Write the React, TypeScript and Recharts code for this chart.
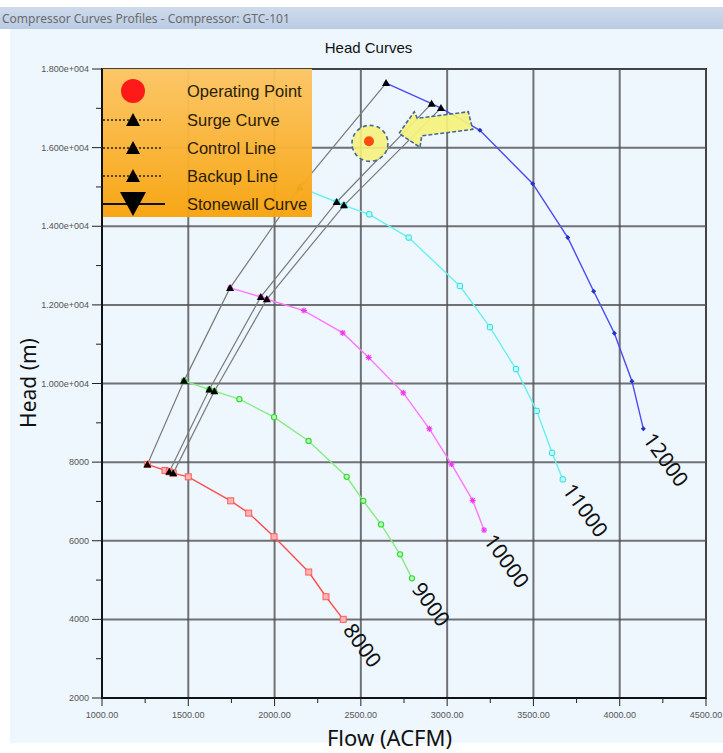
import React from 'react';
import { ScatterChart, Scatter, XAxis, YAxis, ReferenceLine, ReferenceArea } from 'recharts';

// axis ticks
const xMajor = [1000, 1500, 2000, 2500, 3000, 3500, 4000, 4500];
const xMinor = [1250, 1750, 2250, 2750, 3250, 3750, 4250];
const yMajor = [2000, 4000, 6000, 8000, 10000, 12000, 14000, 16000, 18000];
const yMinor = [3000, 5000, 7000, 9000, 11000, 13000, 15000, 17000];

// speed curves (flow ACFM, head m)
const flow8000 = [1263, 1365, 1390, 1413, 1500, 1746, 1850, 1997, 2198, 2298, 2398];
const head8000 = [7942, 7789, 7753, 7720, 7626, 7016, 6704, 6101, 5204, 4576, 4001];
const flow9000 = [1475, 1622, 1651, 1796, 1997, 2197, 2418, 2514, 2617, 2727, 2796];
const head9000 = [10067, 9848, 9805, 9602, 9144, 8539, 7626, 7016, 6416, 5654, 5044];
const flow10000 = [1742, 1920, 1955, 2170, 2395, 2545, 2746, 2897, 3025, 3148, 3214];
const head10000 = [12431, 12202, 12143, 11856, 11287, 10661, 9762, 8847, 7949, 7026, 6271];
const flow11000 = [2147, 2360, 2402, 2549, 2777, 3074, 3248, 3399, 3519, 3608, 3670];
const head11000 = [14990, 14617, 14533, 14304, 13712, 12481, 11432, 10364, 9304, 8236, 7560];
const flow12000 = [2646, 2910, 2964, 3190, 3496, 3699, 3849, 3969, 4071, 4137];
const head12000 = [17642, 17118, 17006, 16439, 15084, 13712, 12347, 11279, 10059, 8847];

// surge / control / backup lines
const surgeFlow = [1263, 1475, 1742, 2147, 2646];
const surgeHead = [7942, 10067, 12431, 14990, 17642];
const controlFlow = [1390, 1622, 1920, 2360, 2910];
const controlHead = [7753, 9848, 12202, 14617, 17118];
const backupFlow = [1413, 1651, 1955, 2402, 2964];
const backupHead = [7720, 9805, 12143, 14533, 17006];

// operating point and arrow tip
const opFlow = [2547];
const opHead = [16160];
const arrowFlow = [2721];
const arrowHead = [16363];

const speedNames = ['8000', '9000', '10000', '11000', '12000'];

const pts = (xs: number[], ys: number[]) => xs.map((x, i) => ({ x, y: ys[i] }));

const curves = [
  { data: pts(flow8000, head8000), color: '#ff4d4d', marker: 'square' },
  { data: pts(flow9000, head9000), color: '#86ec86', marker: 'circle' },
  { data: pts(flow10000, head10000), color: '#ff77ff', marker: 'star' },
  { data: pts(flow11000, head11000), color: '#66f2f2', marker: 'box' },
  { data: pts(flow12000, head12000), color: '#4b4bf0', marker: 'dot' },
];

const Marker = (kind: string) => (p: any) => {
  const { cx, cy } = p;
  if (cx == null || cy == null) return <g />;
  if (kind === 'square')
    return <rect x={cx - 3} y={cy - 3} width={6} height={6} fill="#ffb3b3" stroke="#ff5c5c" strokeWidth={1} />;
  if (kind === 'circle')
    return <circle cx={cx} cy={cy} r={2.6} fill="#b4ffb4" stroke="#33d633" strokeWidth={1.1} />;
  if (kind === 'star')
    return (
      <g stroke="#ee33ee" strokeWidth={1.1}>
        <line x1={cx - 3} x2={cx + 3} y1={cy} y2={cy} />
        <line x1={cx} x2={cx} y1={cy - 3} y2={cy + 3} />
        <line x1={cx - 2.2} x2={cx + 2.2} y1={cy - 2.2} y2={cy + 2.2} />
        <line x1={cx - 2.2} x2={cx + 2.2} y1={cy + 2.2} y2={cy - 2.2} />
      </g>
    );
  if (kind === 'box')
    return <rect x={cx - 2.6} y={cy - 2.6} width={5.2} height={5.2} rx={1.3} fill="#b8ffff" stroke="#2fd8d8" strokeWidth={1} />;
  return <path d={`M${cx},${cy - 2.5}L${cx + 2.5},${cy}L${cx},${cy + 2.5}L${cx - 2.5},${cy}Z`} fill="#2233cc" />;
};

const Triangle = (p: any) => {
  const { cx, cy } = p;
  if (cx == null) return <g />;
  return <path d={`M${cx},${cy - 4}L${cx + 4},${cy + 3}L${cx - 4},${cy + 3}Z`} fill="#000" />;
};

const OpShape = (p: any) => {
  const { cx, cy } = p;
  return (
    <g>
      <circle cx={cx + 1} cy={cy + 2} r={18} fill="#f6f27c" fillOpacity={0.9} stroke="#44679f" strokeWidth={1.6} strokeDasharray="4 3" />
      <circle cx={cx} cy={cy} r={5} fill="#ff4a12" />
    </g>
  );
};

const ArrowShape = (p: any) => {
  const { cx, cy } = p;
  const rel = [[0, 0], [15.3, -21.6], [18.3, -15], [69.3, -21.6], [73.7, -4], [22.7, 2.4], [21, 14]];
  const d = rel.map(([dx, dy], i) => `${i ? 'L' : 'M'}${cx + dx},${cy + dy}`).join('') + 'Z';
  return <path d={d} fill="#f6f27c" fillOpacity={0.92} stroke="#44679f" strokeWidth={1.6} strokeDasharray="4 2" />;
};

const SpeedLabel = (p: any) => {
  const { cx, cy, payload } = p;
  const sx = cx - 1;
  const sy = cy + 11;
  return (
    <text x={sx} y={sy} fontSize={21} fontFamily="'Noto Sans', sans-serif" fill="#111" transform={`rotate(54 ${sx} ${sy})`}>
      {payload.name}
    </text>
  );
};

const XTick = (p: any) => {
  const { x, y, payload } = p;
  const major = payload.value % 500 === 0;
  return (
    <g>
      <line x1={x} x2={x} y1={y} y2={y + (major ? 8 : 5)} stroke="#222" strokeWidth={1} />
      {major && (
        <text x={x} y={y + 20} textAnchor="middle" fontSize={9} fontFamily="'Liberation Sans', Arial, sans-serif" fill="#555">
          {payload.value.toFixed(2)}
        </text>
      )}
    </g>
  );
};

const YTick = (p: any) => {
  const { x, y, payload } = p;
  const v = payload.value;
  const major = v % 2000 === 0;
  const label = v >= 10000 ? `${(v / 10000).toFixed(3)}e+004` : `${v}`;
  return (
    <g>
      <line x1={x} x2={x - (major ? 10 : 6)} y1={y} y2={y} stroke="#222" strokeWidth={1} />
      {major && (
        <text x={x - 13} y={y + 3} textAnchor="end" fontSize={9} fontFamily="'Liberation Sans', Arial, sans-serif" fill="#555">
          {label}
        </text>
      )}
    </g>
  );
};

const Legend = () => {
  const rows = [120, 148, 176];
  const names = ['Surge Curve', 'Control Line', 'Backup Line'];
  return (
    <svg width={209} height={148} style={{ position: 'absolute', left: 103, top: 69, zIndex: 10 }}>
      <defs>
        <linearGradient id="lg" x1="0" y1="0" x2="0" y2="1">
          <stop offset="0" stopColor="#fcc562" />
          <stop offset="1" stopColor="#f8a30c" />
        </linearGradient>
      </defs>
      <rect x={0} y={0} width={209} height={148} fill="url(#lg)" fillOpacity={0.96} />
      <g fontFamily="'Liberation Sans', Arial, sans-serif" fontSize={16.5} fill="#2a1c05">
        <circle cx={30} cy={22} r={12} fill="#ff1a1a" />
        <text x={84} y={28}>Operating Point</text>
        {rows.map((r, i) => (
          <g key={i}>
            <line x1={0} x2={60} y1={r - 69} y2={r - 69} stroke="#222" strokeWidth={1.5} strokeDasharray="2 2" />
            <path d={`M30,${r - 76}L37,${r - 63}L23,${r - 63}Z`} fill="#000" />
            <text x={84} y={r - 63}>{names[i]}</text>
          </g>
        ))}
        <line x1={0} x2={62} y1={135} y2={135} stroke="#111" strokeWidth={2} />
        <path d="M17,123L43,123L30,147Z" fill="#000" />
        <text x={84} y={141}>Stonewall Curve</text>
      </g>
    </svg>
  );
};

export default function App() {
  const gridStroke = '#505050';
  return (
    <div style={{ position: 'absolute', left: 0, top: 0, width: 723, height: 753, background: '#fff', overflow: 'hidden' }}>
      <div
        style={{
          position: 'absolute', left: 0, top: 7, width: 723, height: 22, overflow: 'hidden',
          background: 'linear-gradient(#cfdbec, #b9cbe3)',
        }}
      >
        <div style={{ position: 'absolute', left: 2, top: 3, fontFamily: "'Noto Sans', sans-serif", fontSize: 12, color: '#6b6b6b', whiteSpace: 'nowrap' }}>
          Compressor Curves Profiles - Compressor: GTC-101
        </div>
      </div>
      <div style={{ position: 'absolute', left: 10, top: 29, width: 713, height: 714, background: '#eef6fe' }} />
      <div style={{ position: 'absolute', left: 0, top: 39, width: 723, textAlign: 'center', paddingLeft: 14, boxSizing: 'border-box', fontFamily: "'Liberation Sans', Arial, sans-serif", fontSize: 15, color: '#111' }}>
        Head Curves
      </div>
      <div style={{ position: 'absolute', left: 0, top: 0 }}>
        <ScatterChart width={723} height={753} margin={{ top: 69, right: 17, bottom: 25, left: 32 }}>
          <XAxis
            type="number"
            dataKey="x"
            domain={[1000, 4500]}
            ticks={[...xMajor, ...xMinor].sort((a, b) => a - b)}
            interval={0}
            height={30}
            tickSize={0}
            tickMargin={0}
            tickLine={false}
            tick={XTick}
            axisLine={{ stroke: '#111', strokeWidth: 2 }}
            allowDataOverflow
          />
          <YAxis
            type="number"
            dataKey="y"
            domain={[2000, 18000]}
            ticks={[...yMajor, ...yMinor].sort((a, b) => a - b)}
            interval={0}
            width={70}
            tickSize={0}
            tickMargin={0}
            tickLine={false}
            tick={YTick}
            axisLine={{ stroke: '#111', strokeWidth: 2 }}
            allowDataOverflow
          />
          {xMajor.map((v) => (
            <ReferenceLine key={'gx' + v} x={v} stroke={gridStroke} strokeWidth={2} strokeOpacity={0.8} />
          ))}
          {yMajor.map((v) => (
            <ReferenceLine key={'gy' + v} y={v} stroke={gridStroke} strokeWidth={2} strokeOpacity={0.8} />
          ))}
          <ReferenceArea x1={1000} x2={4500} y1={2000} y2={18000} fill="none" stroke="#111" strokeWidth={2} />
          {[pts(surgeFlow, surgeHead), pts(controlFlow, controlHead), pts(backupFlow, backupHead)].map((d, i) => (
            <Scatter key={'g' + i} data={d} line={{ stroke: '#7a7a7a', strokeWidth: 1.2 }} lineType="joint" shape={() => <g />} isAnimationActive={false} />
          ))}
          {curves.map((c, i) => (
            <Scatter key={'c' + i} data={c.data} line={{ stroke: c.color, strokeWidth: 1.4 }} lineType="joint" shape={Marker(c.marker)} isAnimationActive={false} />
          ))}
          {[pts(surgeFlow, surgeHead), pts(controlFlow, controlHead), pts(backupFlow, backupHead)].map((d, i) => (
            <Scatter key={'t' + i} data={d} shape={Triangle} isAnimationActive={false} />
          ))}
          <Scatter data={pts(opFlow, opHead)} shape={OpShape} isAnimationActive={false} />
          <Scatter data={pts(arrowFlow, arrowHead)} shape={ArrowShape} isAnimationActive={false} />
          <Scatter
            data={curves.map((c, i) => ({ ...c.data[c.data.length - 1], name: speedNames[i] }))}
            shape={SpeedLabel}
            isAnimationActive={false}
          />
        </ScatterChart>
      </div>
      <Legend />
      <div style={{ position: 'absolute', left: 14, top: 383, transform: 'translate(-50%, -50%) rotate(-90deg)', transformOrigin: 'center', fontFamily: "'Noto Sans', sans-serif", fontSize: 21, color: '#111', whiteSpace: 'nowrap', marginLeft: 14 }}>
        Head (m)
      </div>
      <div style={{ position: 'absolute', left: 0, top: 722, width: 723, textAlign: 'center', paddingLeft: 56, boxSizing: 'border-box', fontFamily: "'Noto Sans', sans-serif", fontSize: 22, color: '#111' }}>
        Flow (ACFM)
      </div>
    </div>
  );
}
